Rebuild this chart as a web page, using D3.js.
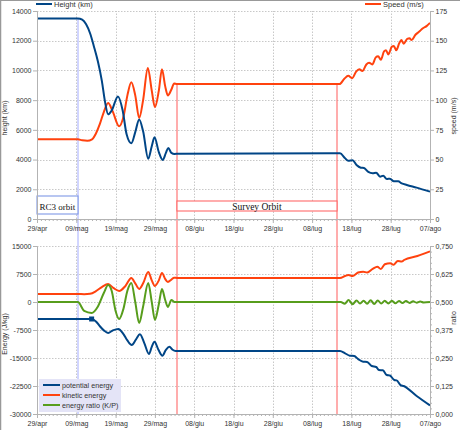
<!DOCTYPE html>
<html><head><meta charset="utf-8">
<script src="https://cdn.jsdelivr.net/npm/d3@7"></script>
<style>body{margin:0;background:#fff}svg{display:block;font-family:"Liberation Sans",Arial,sans-serif}</style>
</head><body><svg id="c" width="460" height="430"></svg>
<script>
// ---- data (day 0 = 29/apr) ----
const dayTicks=[0,10,20,30,40,50,60,70,80,90,100];
const tickLabels=["29/apr","09/mag","19/mag","29/mag","08/giu","18/giu","28/giu","08/lug","18/lug","28/lug","07/ago"];
const heightTicks=[0,2000,4000,6000,8000,10000,12000,14000];
const speedTicks=[0,25,50,75,100,125,150,175];
const energyTicks=[-30000,-22500,-15000,-7500,0,7500,15000];
const ratioTicks=[0,0.125,0.25,0.375,0.5,0.625,0.75];

const heightDays=[0,10.4,11.5,12.5,13.5,14.5,15.5,16.5,17.3,18.1,19,20.6,21.8,22.8,24,25,26,27,28.3,29.2,29.9,31,32,32.8,33.4,34.2,35,36,77.1,78.4,79.2,80.3,81.3,82.4,83.2,84.3,85.4,86.3,87.3,88.1,89,89.8,90.8,91.9,92.8,94.1,96.6,100];
const heightKm=[13500,13500,13420,13100,12500,11600,10600,9300,7900,7050,7300,8250,7300,5700,5100,5850,6700,5900,4050,4900,5500,4500,3970,4450,4780,4450,4380,4400,4420,4085,3925,3960,3635,3455,3430,3165,3075,3120,2850,2915,2690,2715,2535,2535,2400,2290,2110,1840];

const speedDays=[0,10.4,11.5,12.8,14,15,16,17,18.1,19.2,20.9,22,23,24,25,26,27,28.2,29.2,30,31,31.8,32.6,33.3,34.2,34.9,35.6,77,78.2,79.2,80.2,81.2,82,82.8,83.8,84.5,85.3,86.2,86.8,87.5,88.3,88.8,89.4,90.3,90.8,91.4,92.2,92.7,93.3,94.2,94.8,95.3,96.3,97.2,98.2,99.2,100];
const speedMs=[67,67,66.2,65.8,67,72,80,90,97.5,91,78,86,104,115,104,85,100,127,108,94,108,126,112,104,109,114,113.5,113.5,118,120.5,118.5,124,126,124.5,130,131.5,130,136,137,134,141,142,138.5,145,145.5,142,148,150.5,147.5,151.5,152,150.5,155,157.5,160.5,162.5,165];

const potDays=[0,13.9,15,16,17,18.1,19.3,20.7,22,23,24.1,25.2,26.2,27.3,28.5,29.2,29.9,30.9,31.9,32.8,33.7,34.5,35.3,77.1,78.4,79.6,80.7,81.8,83,84,85.2,86.3,87,88,89,89.8,90.9,91.5,92.5,93.3,96.6,100];
const potE=[-4550,-4550,-5200,-6500,-7600,-8300,-7600,-7200,-8600,-10300,-11520,-10000,-8660,-11000,-13930,-12000,-10630,-12800,-14380,-12800,-11970,-12800,-13100,-13100,-13750,-14380,-14470,-15350,-15980,-16050,-17150,-17400,-18220,-18300,-19560,-19700,-20900,-21000,-22240,-22500,-25180,-27700];

const kinDays=[0,10.4,12,13.5,15,16.5,18.1,19.5,20.9,22.5,24,25,26,27,28.3,29.2,30,31,31.8,32.6,33.3,34.2,34.9,35.6,77.1,78.4,79.2,80.3,81.7,83,84,85.4,86.6,87.5,88.5,89.9,90.7,91.8,92.8,93.4,96.8,100];
const kinE=[2150,2150,2100,2200,2900,4000,4800,3700,2950,4300,6430,5000,3500,5000,8040,5800,4300,5800,7800,6200,5360,6000,6500,6440,6440,6970,7230,6970,7900,8120,7900,8840,9460,8840,10100,10410,9960,11000,10840,11250,12320,13550];

const ratioDays=[0,10.4,12,13.9,15.5,17,18.1,19,20,20.9,22,23,24,25,26,27,28.3,29.2,30,31,31.8,32.6,33.3,34.2,35,77.3,78.3,79.3,80.3,81.3,82.2,83.1,84,84.9,85.8,86.7,87.6,88.5,89.4,90.3,91.2,92.1,93,93.9,94.8,95.7,96.6,97.5,98.4,100];
const ratioVal=[0.5,0.5,0.46,0.451,0.48,0.54,0.576,0.55,0.46,0.424,0.47,0.55,0.585,0.5,0.406,0.48,0.585,0.5,0.42,0.49,0.558,0.51,0.478,0.509,0.5,0.5,0.492,0.509,0.49,0.507,0.493,0.506,0.492,0.508,0.491,0.507,0.493,0.506,0.493,0.506,0.494,0.505,0.495,0.504,0.496,0.503,0.497,0.502,0.498,0.5];

const eventDays=[10.4,35.6,76.3];
const seriesColors={blue:"#004586",red:"#ff420e",green:"#579d1c"};

// ---- drawing ----
const svg=d3.select("#c");
const loc=d3.formatLocale({decimal:",",thousands:".",grouping:[3],currency:["","€"],minus:"-"});
const fInt=loc.format("d"), fRatio=loc.format(".3f");
const x=d3.scaleLinear().domain([0,100]).range([37,430]);
const yH=d3.scaleLinear().domain([0,14000]).range([219,11]);
const yS=d3.scaleLinear().domain([0,175]).range([219,11]);
const yE=d3.scaleLinear().domain([-30000,15000]).range([414,246]);
const yR=d3.scaleLinear().domain([0,0.75]).range([414,246]);
const zip=(a,b)=>a.map((d,i)=>[d,b[i]]);
const crisp=v=>Math.round(v)+0.5;

// frame
svg.append("line").attr("x1",0.5).attr("x2",0.5).attr("y1",0).attr("y2",430).attr("stroke","#999").attr("stroke-width",1.5);
svg.append("line").attr("x1",0).attr("x2",460).attr("y1",0.5).attr("y2",0.5).attr("stroke","#999").attr("stroke-width",1);

function grid(yScale,ticks){
  const r=yScale.range();
  const g=svg.append("g").attr("stroke","#c8c8c8").attr("stroke-dasharray","1.5,1.5");
  g.selectAll(".v").data(dayTicks.slice(1,-1)).join("line").attr("x1",d=>crisp(x(d))).attr("x2",d=>crisp(x(d))).attr("y1",r[0]).attr("y2",r[1]);
  g.selectAll(".h").data(ticks).join("line").attr("x1",37).attr("x2",430).attr("y1",d=>crisp(yScale(d))).attr("y2",d=>crisp(yScale(d)));
}
grid(yH,heightTicks); grid(yE,energyTicks);

// event lines
const ex=d=>Math.round(x(d));
svg.append("line").attr("x1",ex(eventDays[0])).attr("x2",ex(eventDays[0])).attr("y1",yH(13500)).attr("y2",414).attr("stroke","#a4acff").attr("stroke-width",1);
[eventDays[1],eventDays[2]].forEach(d=>svg.append("line").attr("x1",ex(d)).attr("x2",ex(d)).attr("y1",yS(113.5)).attr("y2",414).attr("stroke","#ff6a6a").attr("stroke-width",1.1));

// annotation boxes
svg.append("rect").attr("x",ex(0)).attr("y",Math.round(yH(1550))).attr("width",ex(eventDays[0])-ex(0)).attr("height",Math.round(yH(340)-yH(1550))).attr("fill","#fff").attr("stroke","#7f98e6").attr("stroke-width",1.1);
svg.append("text").attr("x",(x(0)+x(eventDays[0]))/2).attr("y",yH(600)).attr("text-anchor","middle").attr("font-family","Liberation Serif,serif").attr("font-size",9).attr("fill","#111").text("RC3 orbit");
svg.append("rect").attr("x",ex(eventDays[1])).attr("y",Math.round(yH(1200))).attr("width",ex(eventDays[2])-ex(eventDays[1])).attr("height",Math.round(yH(540)-yH(1200))).attr("fill","#fff").attr("stroke","#ff6a6a").attr("stroke-width",1.1);
svg.append("text").attr("x",(x(eventDays[1])+x(eventDays[2]))/2).attr("y",yH(600)).attr("text-anchor","middle").attr("font-family","Liberation Serif,serif").attr("font-size",9.5).attr("fill","#111").text("Survey Orbit");

// series
function drawLine(data,yScale,color){
  svg.append("path").datum(data).attr("fill","none").attr("stroke",color).attr("stroke-width",2).attr("stroke-linejoin","round")
    .attr("d",d3.line().x(d=>x(d[0])).y(d=>yScale(d[1])).curve(d3.curveMonotoneX));
}
drawLine(zip(speedDays,speedMs),yS,seriesColors.red);
drawLine(zip(heightDays,heightKm),yH,seriesColors.blue);
drawLine(zip(kinDays,kinE),yE,seriesColors.red);
drawLine(zip(ratioDays,ratioVal),yR,seriesColors.green);
drawLine(zip(potDays,potE),yE,seriesColors.blue);
svg.append("rect").attr("x",x(potDays[1])-2.5).attr("y",yE(potE[1])-2.5).attr("width",5).attr("height",5).attr("fill",seriesColors.blue);

// axes
function style(g){
  g.select(".domain").attr("stroke","#b3b3b3");
  g.selectAll(".tick line").attr("stroke","#b3b3b3");
  g.selectAll("text").attr("fill","#333").attr("font-size",7).attr("font-family","Liberation Sans,Arial,sans-serif");
}
function xAxes(yPos){
  svg.append("g").attr("transform",`translate(0,${yPos})`).call(d3.axisBottom(x).tickValues(d3.range(0,101,1)).tickSize(2).tickFormat("")).call(style).select(".domain").remove();
  svg.append("g").attr("transform",`translate(0,${yPos})`).call(d3.axisBottom(x).tickValues(dayTicks).tickSize(4).tickPadding(3).tickFormat((d,i)=>tickLabels[i])).call(style);
}
xAxes(219); xAxes(414);
svg.append("g").attr("transform","translate(37,0)").call(d3.axisLeft(yH).tickValues(heightTicks).tickSize(4).tickPadding(1.5).tickFormat(fInt)).call(style);
svg.append("g").attr("transform","translate(430,0)").call(d3.axisRight(yS).tickValues(speedTicks).tickSize(4).tickPadding(1.5).tickFormat(fInt)).call(style);
svg.append("g").attr("transform","translate(37,0)").call(d3.axisLeft(yE).tickValues(energyTicks).tickSize(4).tickPadding(1.5).tickFormat(fInt)).call(style);
svg.append("g").attr("transform","translate(430,0)").call(d3.axisRight(yR).tickValues(d3.range(0,0.751,0.025)).tickSize(2).tickFormat("")).call(style);
svg.append("g").attr("transform","translate(430,0)").call(d3.axisRight(yR).tickValues(ratioTicks).tickSize(4).tickPadding(1.5).tickFormat(fRatio)).call(style);

// axis titles
function title(t,xx,yy){svg.append("text").attr("transform",`translate(${xx},${yy}) rotate(-90)`).attr("text-anchor","middle").attr("font-size",7).attr("fill","#333").text(t);}
title("height (km)",7,118); title("speed (m/s)",456,116); title("Energy (J/kg)",7,334); title("ratio",456,318);

// top legends
svg.append("line").attr("x1",36).attr("x2",52).attr("y1",4).attr("y2",4).attr("stroke",seriesColors.blue).attr("stroke-width",2);
svg.append("text").attr("x",54).attr("y",7).attr("font-size",7.5).attr("fill","#333").text("Height (km)");
svg.append("line").attr("x1",365).attr("x2",381).attr("y1",4).attr("y2",4).attr("stroke",seriesColors.red).attr("stroke-width",2);
svg.append("text").attr("x",383).attr("y",7).attr("font-size",7.5).attr("fill","#333").text("Speed (m/s)");

// bottom legend
const legNames=["potential energy","kinetic energy","energy ratio (K/P)"];
const legCols=[seriesColors.blue,seriesColors.red,seriesColors.green];
svg.append("rect").attr("x",39).attr("y",379).attr("width",82).attr("height",33).attr("fill","#e4e4f7");
legNames.forEach((n,i)=>{
  const yy=385+i*10;
  svg.append("line").attr("x1",43).attr("x2",60).attr("y1",yy).attr("y2",yy).attr("stroke",legCols[i]).attr("stroke-width",2);
  svg.append("text").attr("x",62).attr("y",yy).attr("dy","0.35em").attr("font-size",7.2).attr("fill","#333").text(n);
});
</script></body></html>
